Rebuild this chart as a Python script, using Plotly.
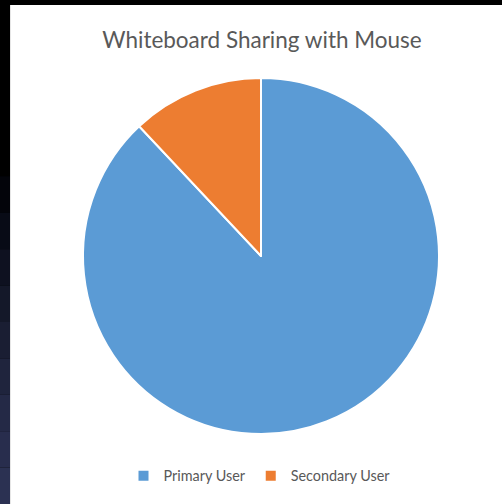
import plotly.graph_objects as go

# Share of whiteboard-sharing sessions by mouse user
labels = ["Primary User", "Secondary User"]
values = [88, 12]
colors = ["#5B9BD5", "#ED7D31"]

W, H = 502, 504

fig = go.Figure()
fig.add_trace(go.Pie(
    labels=labels,
    values=values,
    sort=False,
    direction="clockwise",
    rotation=0,
    textinfo="none",
    hoverinfo="label+percent",
    marker=dict(colors=colors, line=dict(color="#FFFFFF", width=2)),
    domain=dict(x=[(261 - 178) / W, (261 + 178) / W],
                y=[1 - (256 + 178) / H, 1 - (256 - 178) / H]),
))

# dark frame around the white chart card: black top, left strip fading to navy
shapes = [
    dict(type="rect", xref="paper", yref="paper", x0=0, x1=1, y0=0, y1=1,
         fillcolor="#000000", line=dict(width=0), layer="below"),
]
strip_colors = ["#000000", "#03040a", "#080b16", "#0e1120", "#141829",
                "#1a1e33", "#1f243d", "#242946", "#282d4d", "#2b3152"]
n = len(strip_colors)
top_px = 140
for i, c in enumerate(strip_colors):
    ya = top_px + (H - top_px) * i / n
    yb = top_px + (H - top_px) * (i + 1) / n
    shapes.append(dict(type="rect", xref="paper", yref="paper",
                       x0=0, x1=10 / W, y0=1 - yb / H, y1=1 - ya / H,
                       fillcolor=c, line=dict(width=0), layer="below"))
shapes.append(dict(type="rect", xref="paper", yref="paper",
                   x0=10 / W, x1=11 / W, y0=0, y1=1 - 5 / H,
                   fillcolor="#e6e6e6", line=dict(width=0), layer="below"))
shapes.append(dict(type="rect", xref="paper", yref="paper",
                   x0=11 / W, x1=1, y0=0, y1=1 - 5 / H,
                   fillcolor="#FFFFFF", line=dict(width=0), layer="below"))

fig.update_layout(
    width=W, height=H,
    margin=dict(l=0, r=0, t=0, b=0),
    paper_bgcolor="#000000",
    plot_bgcolor="#FFFFFF",
    shapes=shapes,
    title=dict(text="Whiteboard Sharing with Mouse",
               x=262 / W, xanchor="center",
               y=1 - 40 / H, yanchor="middle",
               font=dict(family="Lato", size=22.5, color="#595959")),
    legend=dict(orientation="h", x=259.5 / W, xanchor="center",
                y=1 - 476 / H, yanchor="middle",
                font=dict(family="Lato", size=14.4, color="#595959"),
                bgcolor="rgba(0,0,0,0)", itemwidth=30),
    showlegend=True,
)

fig.write_html("out.html")
